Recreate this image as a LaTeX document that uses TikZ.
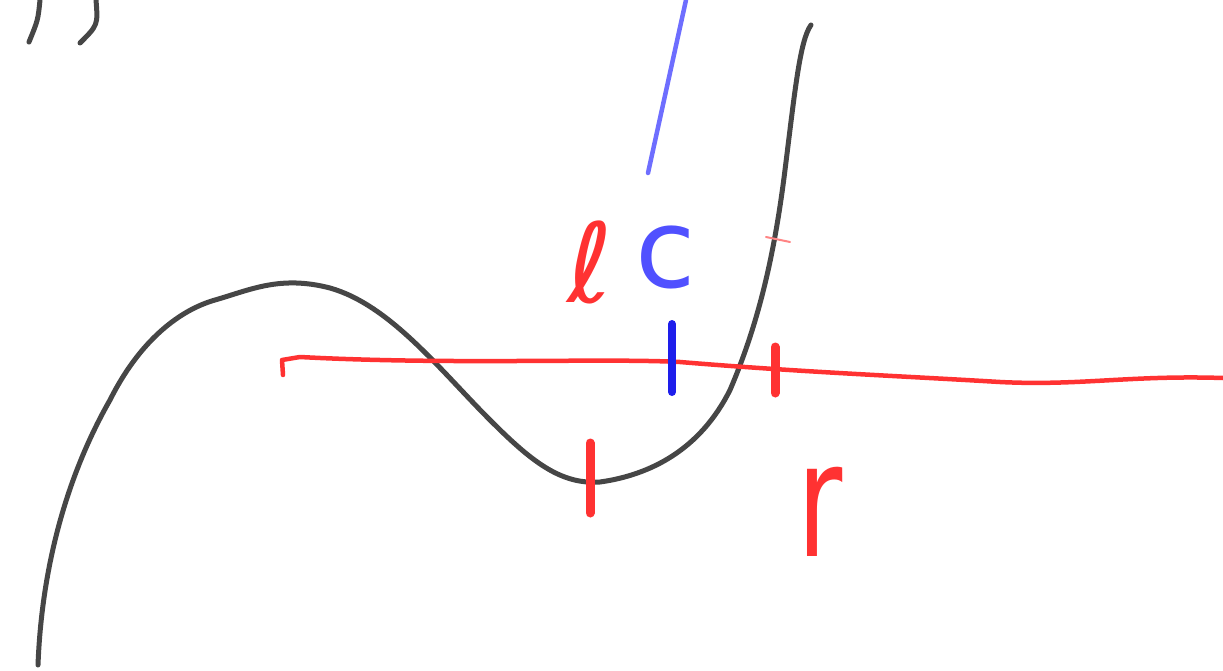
\documentclass[tikz,border=0pt]{standalone}
\usepackage{fontspec}
\setmainfont{DejaVu Sans}
\definecolor{pen}{RGB}{70,70,70}
\definecolor{penred}{RGB}{255,50,50}
\definecolor{penblue}{RGB}{80,80,255}
\definecolor{penblueline}{RGB}{110,110,255}
\definecolor{penbluedark}{RGB}{30,30,235}
\begin{document}
\begin{tikzpicture}[x=1pt,y=-1pt,line cap=round,line join=round,
  stroke/.style={line width=5pt},
  tick/.style={line width=9pt},
  lbl/.style={inner sep=0pt,font=\fontsize{110}{110}\selectfont}]
\useasboundingbox (0,0) rectangle (1223,671);
% top-left marks
\draw[stroke,pen] (40,0) .. controls (38,20) .. (29,42);
\draw[stroke,pen] (96,0) .. controls (98,25) .. (80,43);
% blue line
\draw[stroke,penblueline,line width=4.5pt] (686,0) -- (648,173);
% black curve
\draw[stroke,pen] (38,665) .. controls (42,560) and (70,470) .. (110,400)
  .. controls (140,340) and (180,310) .. (215,300)
  .. controls (250,290) and (280,275) .. (330,288)
  .. controls (390,305) and (440,370) .. (490,420)
  .. controls (530,460) and (560,485) .. (600,482)
  .. controls (650,475) and (700,450) .. (730,390)
  .. controls (760,320) and (775,250) .. (785,170)
  .. controls (795,90) and (800,40) .. (811,25);
% red line
\draw[stroke,penred,line width=4.5pt] (283,375) -- (282,360) -- (300,357)
  .. controls (450,365) and (600,358) .. (680,362)
  .. controls (800,372) and (900,376) .. (1000,382)
  .. controls (1080,386) and (1130,375) .. (1223,378);
% ticks
\draw[tick,penred] (775,347) -- (775,393);
\draw[tick,penred] (590,443) -- (590,513);
\draw[tick,penbluedark,line width=8pt] (672,324) -- (672,392);
\draw[penred!60,line width=2pt] (766,237) -- (790,242);
% labels
\node[lbl,text=penred] (l) at (590,262) {ℓ};
\node[lbl,text=penblue] (c) at (666,257) {c};
\node[lbl,text=penred,yscale=1.45] (r) at (820,512) {r};
\end{tikzpicture}
\end{document}
